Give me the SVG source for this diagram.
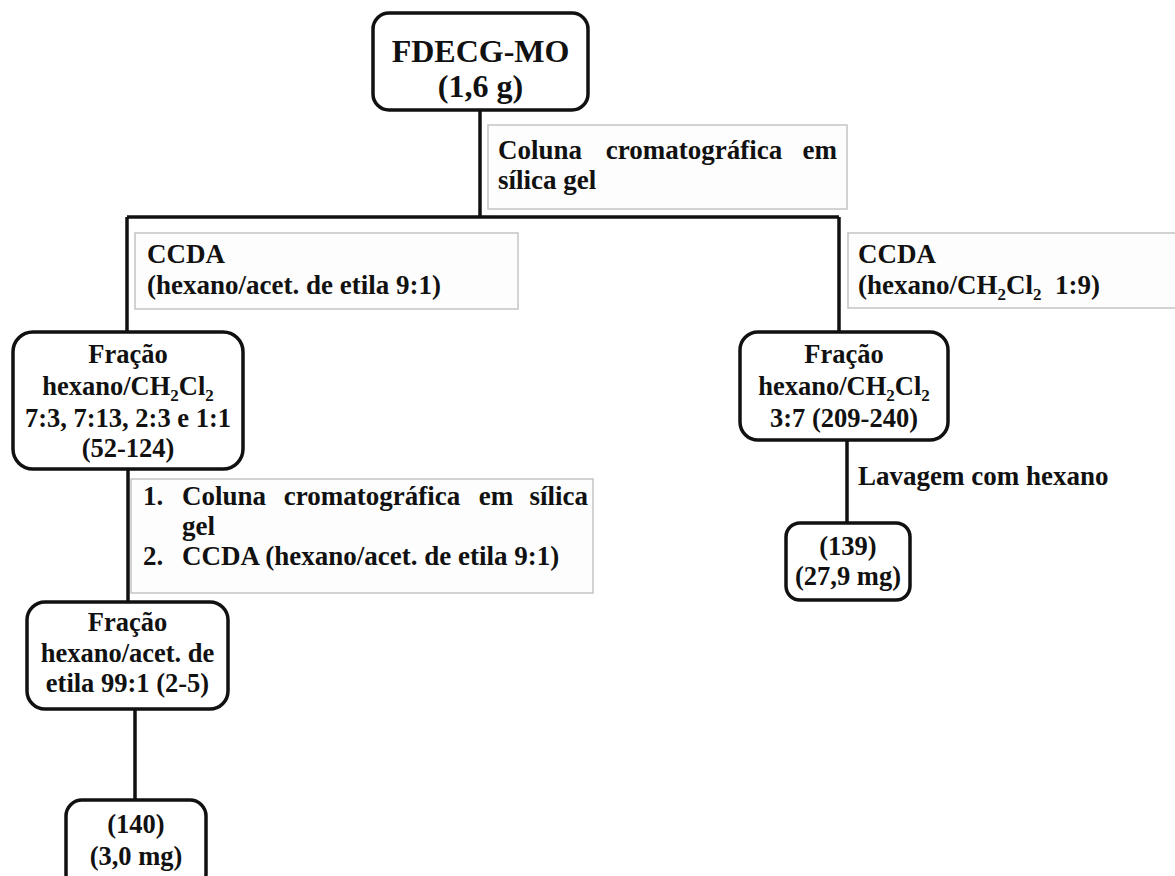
<svg xmlns="http://www.w3.org/2000/svg" width="1175" height="876" viewBox="0 0 1175 876">
<style>
text{font-family:"Liberation Serif","Times New Roman",serif;font-weight:bold;fill:#111;font-size:27px}
.node text{font-size:26.5px}
.node rect{fill:#fff;stroke:#111;stroke-width:3.5}
.lbl rect{fill:#fdfdfd;stroke:#c4c4c4;stroke-width:1.5}
.c{text-anchor:middle}
.e{text-anchor:end}
.node .big{font-size:32px}
.sub{font-size:17px}
#connectors path{fill:none;stroke:#111;stroke-width:3.5}
</style>
<rect width="1175" height="876" fill="#fff"/>
<g id="connectors">
<path d="M480 110V217"/>
<path d="M127 217H839"/>
<path d="M127 217V332"/>
<path d="M839 217V332"/>
<path d="M128 469V602"/>
<path d="M135 709V800"/>
<path d="M847 440V523"/>
</g>
<g id="label-coluna" class="lbl">
<rect x="488" y="125" width="359" height="84"/>
<text x="498" y="159">Coluna</text>
<text x="694" y="159" class="c">cromatográfica</text>
<text x="837" y="159" class="e">em</text>
<text x="498" y="189">sílica gel</text>
</g>
<g id="label-ccda-left" class="lbl">
<rect x="135" y="233" width="383" height="76"/>
<text x="147" y="263">CCDA</text>
<text x="147" y="294">(hexano/acet. de etila 9:1)</text>
</g>
<g id="label-ccda-right" class="lbl">
<rect x="848" y="233" width="335" height="75"/>
<text x="858" y="263">CCDA</text>
<text x="858" y="294">(hexano/CH<tspan class="sub" dy="6">2</tspan><tspan dy="-6">Cl</tspan><tspan class="sub" dy="6">2</tspan><tspan dy="-6">&#160; 1:9)</tspan></text>
</g>
<g id="label-steps" class="lbl">
<rect x="131" y="479" width="462" height="114"/>
<text x="143" y="505">1.</text>
<text x="182" y="505">Coluna</text>
<text x="372" y="505" class="c">cromatográfica</text>
<text x="496" y="505" class="c">em</text>
<text x="588" y="505" class="e">sílica</text>
<text x="182" y="535">gel</text>
<text x="143" y="565">2.</text>
<text x="182" y="565">CCDA (hexano/acet. de etila 9:1)</text>
</g>
<g id="label-lavagem">
<text x="858" y="485">Lavagem com hexano</text>
</g>
<g id="node-fdecg" class="node">
<rect x="373" y="13" width="215" height="97" rx="16"/>
<text x="480.5" y="62" class="c big">FDECG-MO</text>
<text x="480.5" y="97" class="c big">(1,6 g)</text>
</g>
<g id="node-fracao1" class="node">
<rect x="13" y="332" width="230" height="137" rx="20"/>
<text x="128" y="363" class="c">Fração</text>
<text x="128" y="395" class="c">hexano/CH<tspan class="sub" dy="6">2</tspan><tspan dy="-6">Cl</tspan><tspan class="sub" dy="6">2</tspan></text>
<text x="128" y="427" class="c">7:3, 7:13, 2:3 e 1:1</text>
<text x="128" y="457" class="c">(52-124)</text>
</g>
<g id="node-fracao2" class="node">
<rect x="27" y="602" width="201" height="107" rx="18"/>
<text x="127.5" y="631" class="c">Fração</text>
<text x="127.5" y="662" class="c">hexano/acet. de</text>
<text x="127.5" y="692" class="c">etila 99:1 (2-5)</text>
</g>
<g id="node-140" class="node">
<rect x="66" y="800" width="140" height="90" rx="16"/>
<text x="136" y="833" class="c">(140)</text>
<text x="136" y="865" class="c">(3,0 mg)</text>
</g>
<g id="node-fracao3" class="node">
<rect x="740" y="332" width="208" height="108" rx="18"/>
<text x="844" y="363" class="c">Fração</text>
<text x="844" y="395" class="c">hexano/CH<tspan class="sub" dy="6">2</tspan><tspan dy="-6">Cl</tspan><tspan class="sub" dy="6">2</tspan></text>
<text x="844" y="427" class="c">3:7 (209-240)</text>
</g>
<g id="node-139" class="node">
<rect x="786" y="523" width="124" height="77" rx="14"/>
<text x="848" y="555" class="c">(139)</text>
<text x="848" y="585" class="c">(27,9 mg)</text>
</g>
</svg>
